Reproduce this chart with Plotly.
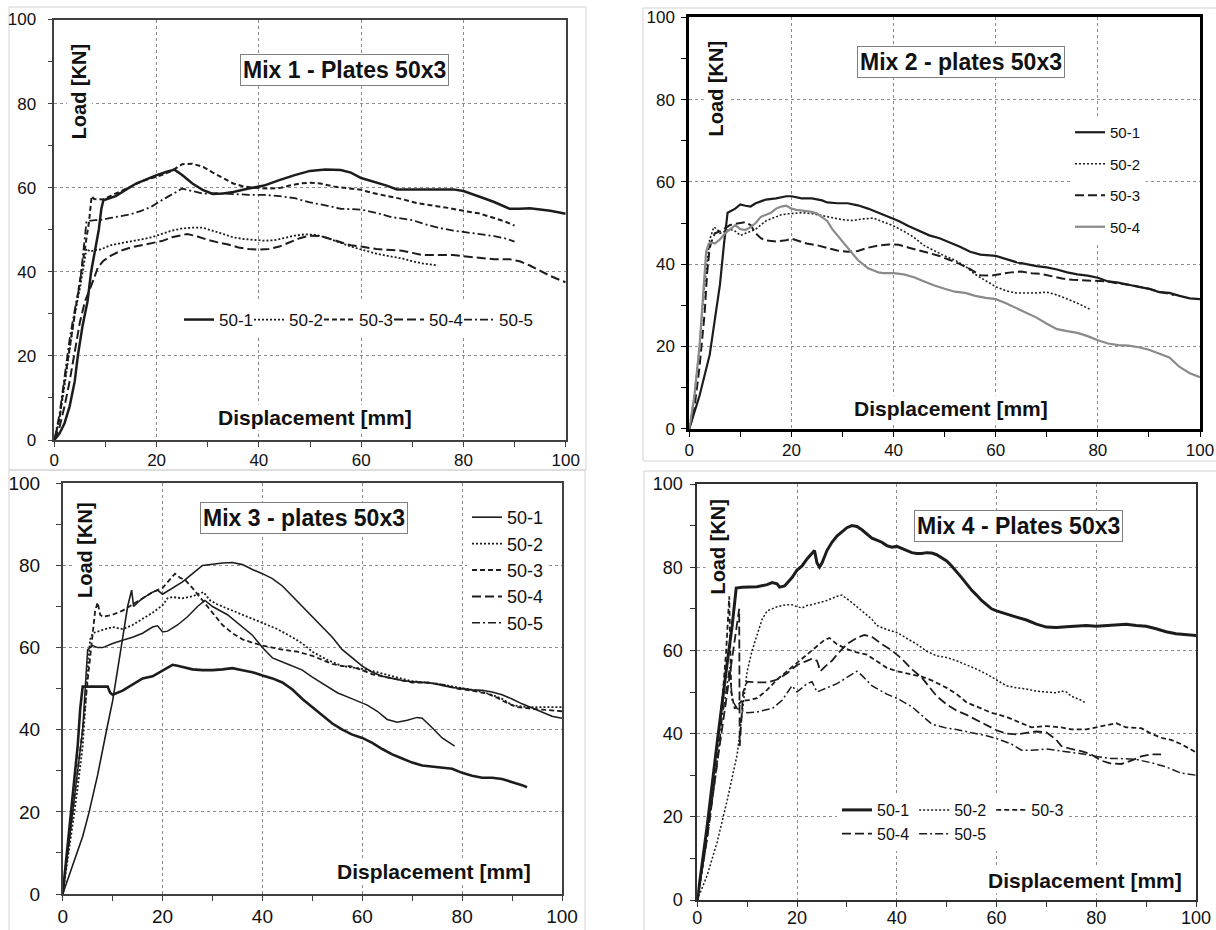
import plotly.graph_objects as go

W, H = 1216, 930
FONT = "Liberation Sans, Arial, sans-serif"
INK = "#1c1c1c"
GREY = "#8a8a8a"

# ---------------- DATA (Load [KN] vs Displacement [mm]) ----------------
# Mix 1 - Plates 50x3
M1_50_1_X = [0, 1, 2, 3, 4, 4.6, 5.5, 6.5, 7.2, 8, 8.7, 9.2, 9.6, 12, 14, 16, 18, 20, 22, 23.5, 25, 27, 29, 31, 33, 35, 38, 41, 44, 47, 50, 53, 56, 58, 60, 63, 65, 67, 70, 75, 78, 80, 82, 84, 86, 88, 89, 91, 93, 95, 97, 100]
M1_50_1_Y = [0, 1.5, 4, 8, 14, 20, 27, 33, 40, 45, 50, 55, 57, 58, 59.5, 61, 62, 63, 63.8, 64.3, 63, 61, 59.5, 58.5, 58.6, 59, 59.8, 60.5, 61.8, 63, 64, 64.3, 64.2, 63.6, 62.3, 61.3, 60.5, 59.6, 59.6, 59.7, 59.6, 59.2, 58.4, 57.5, 56.6, 55.5, 55, 55, 55.1, 54.8, 54.5, 53.8]
M1_50_2_X = [0, 1, 2, 3, 4, 5, 5.8, 6.3, 7, 8, 9, 11, 13, 15, 17, 19, 21, 23, 25, 27, 29, 31, 33, 35, 37, 39, 41, 43, 45, 47, 49, 51, 53, 55, 58, 60, 63, 66, 68, 70, 72, 74, 75]
M1_50_2_Y = [0, 5, 13, 22, 30, 36, 42, 45.5, 44.8, 45.2, 45.3, 46.3, 46.8, 47.2, 47.7, 48.2, 49, 49.8, 50.3, 50.5, 50.5, 49.8, 49, 48.2, 47.8, 47.6, 47.4, 47.5, 48, 48.6, 48.9, 48.8, 48.2, 47.3, 46, 45.3, 44.3, 43.6, 43.2, 42.5, 42, 41.7, 41.5]
M1_50_3_X = [0, 1, 2, 3, 4, 5, 6, 6.8, 7.3, 7.8, 9.5, 11, 13, 15, 17, 19, 21, 23, 25, 27, 29, 31, 33, 35, 37, 39, 42, 44, 46, 48, 50, 52, 55, 58, 60, 62, 65, 68, 71, 74, 77, 80, 83, 86, 88, 90]
M1_50_3_Y = [0, 5, 14, 22, 30, 37, 46, 52, 58, 57.3, 57.2, 58, 59.2, 60.3, 61.5, 62.2, 63, 64, 65.6, 65.7, 65, 63.6, 62.2, 61, 60.3, 60, 59.8, 59.9, 60.5, 61, 61.2, 61, 60.2, 59.8, 59.5, 58.8, 58, 57.3, 56.3, 55.8, 55.2, 54.5, 53.9, 52.8, 52, 51]
M1_50_4_X = [0, 1, 2, 3, 4, 5, 6, 7, 7.8, 8.5, 9.5, 11, 13, 15, 17, 19, 21, 23, 25, 26, 28, 30, 32, 34, 36, 38, 40, 42, 44, 46, 48, 50, 52, 54, 56, 58, 60, 63, 66, 68, 70, 72, 75, 78, 80, 83, 86, 89, 91, 93, 95, 97, 100]
M1_50_4_Y = [0, 3, 8, 14, 21, 28, 33, 36, 38.5, 41, 42.5, 43.8, 45, 45.8, 46.3, 46.8, 47.3, 48.2, 48.8, 49, 48.4, 47.6, 47, 46.5, 45.8, 45.4, 45.3, 45.4, 46, 47, 48, 48.6, 48.5, 47.8, 47, 46.3, 46, 45.4, 45.2, 45, 44.5, 44, 44, 44, 43.7, 43.3, 43, 43, 42.5, 41.5, 40.3, 39, 37.5]
M1_50_5_X = [0, 1, 2, 3, 4, 5, 5.7, 6.3, 8, 9, 11, 13, 15, 17, 19, 21, 23, 25, 27, 29, 32, 35, 38, 41, 44, 47, 50, 53, 56, 60, 63, 66, 70, 72, 75, 78, 80, 83, 86, 88, 90]
M1_50_5_Y = [0, 6, 15, 24, 31, 37, 45, 52, 52.3, 52.3, 52.8, 53.3, 53.7, 54.5, 55.5, 57, 58.5, 59.8, 59.2, 58.6, 58.7, 58.5, 58.3, 58.3, 58, 57.5, 56.5, 55.8, 55, 54.8, 54, 53, 52.3, 51.5, 50.5, 49.8, 49.5, 49, 48.5, 48, 47.2]

# Mix 2 - plates 50x3
M2_50_1_X = [0, 2, 4, 5, 6, 6.8, 7.5, 9, 10, 11, 12, 13, 15, 17, 19, 20, 21, 22, 24, 26, 27, 29, 31, 33, 35, 37, 39, 41, 43, 45, 47, 49, 51, 53, 55, 57, 60, 62, 64, 66, 68, 70, 72, 74, 76, 78, 80, 82, 84, 86, 88, 90, 92, 94, 96, 98, 100]
M2_50_1_Y = [0, 8, 18, 26, 35, 45, 52.5, 53.5, 54.5, 54.2, 54, 54.8, 55.7, 56, 56.5, 56.5, 56.2, 56, 56, 55.5, 55, 54.8, 54.8, 54.3, 53.5, 52.5, 51.5, 50.5, 49.2, 48, 47, 46.3, 45.3, 44.2, 43, 42.3, 42, 41.2, 40.5, 40, 39.5, 39.2, 38.7, 38, 37.5, 37.2, 36.7, 35.8, 35.5, 35, 34.5, 34, 33.2, 33, 32.3, 31.7, 31.5]
M2_50_2_X = [0, 1, 2, 3, 4, 4.8, 5.5, 6, 7, 8, 9, 10, 11, 12, 13, 14, 15, 16, 17, 18, 20, 22, 24, 26, 28, 30, 32, 34, 36, 38, 40, 42, 44, 46, 48, 50, 52, 54, 56, 58, 60, 62, 64, 66, 68, 70, 72, 74, 76, 78.5]
M2_50_2_Y = [0, 8, 20, 35, 46, 49, 48.5, 47.5, 48, 48.5, 48, 47, 47.5, 48, 48.5, 49.5, 50.5, 51, 51.5, 52, 52.3, 52.5, 52.3, 51.8, 51.3, 50.8, 50.6, 51, 51.2, 50.2, 49.3, 48, 46.5, 44.5, 43.2, 42, 41, 39.5, 37.5, 36, 34.5, 33.5, 33, 33, 33, 33.2, 32.5, 31.5, 30.5, 29]
M2_50_3_X = [0, 1, 2, 3, 3.5, 4, 4.5, 5, 6, 7, 8, 9, 10, 11, 12, 13, 14, 15, 17, 19, 20, 21, 23, 25, 27, 29, 31, 33, 35, 37, 39, 41, 43, 45, 47, 49, 51, 53, 55, 57, 59, 61, 63, 65, 67, 69, 71, 73, 75, 78, 80, 82, 84, 86, 88, 90, 92, 94, 95]
M2_50_3_Y = [0, 5, 15, 28, 38, 44, 46, 47.5, 48, 48.8, 49.5, 49.8, 50, 50.2, 49.5, 47.5, 46.3, 45.8, 45.5, 45.8, 46.2, 45.8, 45, 44.6, 44, 43.3, 43, 43.2, 44, 44.5, 44.8, 44.7, 44, 43.3, 42.7, 42, 41, 40, 38.8, 37.3, 37.2, 37.6, 38, 38.2, 37.8, 37.6, 37, 36.5, 36.2, 36, 36, 35.8, 35.3, 35, 34.5, 34, 33.3, 32.7, 32.5]
M2_50_4_X = [0, 1, 2, 2.8, 3.3, 3.8, 4.5, 5, 6, 7, 8, 9, 10, 11, 12, 13, 14, 15, 16, 17, 18, 19, 20, 21, 22, 23, 24, 25, 26, 27, 28, 29, 30, 31, 32, 33, 34, 35, 36, 37, 38, 40, 42, 44, 46, 48, 50, 52, 54, 56, 58, 60, 62, 64, 66, 68, 70, 72, 74, 76, 78, 80, 82, 84, 86, 88, 90, 92, 94, 96, 98, 100]
M2_50_4_Y = [0, 8, 20, 35, 43, 45, 45.2, 45, 46, 47.5, 48.5, 49.5, 48.5, 48.3, 49, 50, 51.5, 52, 52.5, 53.5, 54, 54.2, 53.5, 53.2, 53, 52.8, 52.7, 52.3, 51.5, 50.5, 48.5, 47, 45.5, 44, 42.5, 41, 40, 39, 38.5, 38, 37.8, 37.8, 37.5, 36.8, 35.8, 34.8, 34, 33.3, 33, 32.3, 31.8, 31.5, 30.5, 29.3, 28.3, 27, 25.5, 24.2, 23.7, 23.3, 22.5, 21.5, 20.7, 20.3, 20.2, 19.8, 19.2, 18.3, 17.3, 15, 13.5, 12.5]

# Mix 3 - plates 50x3
M3_50_1_X = [0, 2, 4, 5.3, 7, 8.8, 10, 11.7, 13, 13.8, 14.2, 15, 16, 18, 19, 20, 22, 24, 26, 28, 30, 32, 34, 36, 38, 40, 42, 44, 46, 48, 50, 52, 54, 56, 58, 60, 62, 64, 66, 68, 70, 72, 74, 76, 78, 80, 82, 84, 86, 88, 90, 92, 94, 96, 98, 100]
M3_50_1_Y = [0, 7, 14, 20, 29, 40, 47, 60, 70, 74, 70, 71, 72, 73.5, 74, 73, 74.5, 76, 78, 80, 80.3, 80.6, 80.7, 80.2, 79, 78, 76.8, 75, 72.5, 70, 67.5, 65, 62.5, 59.5, 57.5, 55.5, 54, 53, 52.5, 52, 51.7, 51.5, 51.3, 50.8, 50.3, 50, 49.7, 49.6, 49.2, 48.5, 47.5, 46.3, 45.3, 44.2, 43.3, 42.8]
M3_50_2_X = [0, 1, 2, 3, 4, 4.5, 5, 5.5, 6, 8, 10, 12, 14, 16, 18, 20, 21, 22, 24, 26, 28.2, 29.5, 31, 33, 35, 38, 40, 43, 46, 48, 50, 53, 56, 60, 63, 66, 70, 73, 76, 80, 83, 86, 88, 90, 93, 96, 100]
M3_50_2_Y = [0, 8, 17, 26, 36, 45, 55, 62, 63.5, 64.3, 65, 64.5, 65.5, 67, 68.5, 70.3, 72, 72.3, 72, 72.5, 73.5, 71.5, 70.5, 69.5, 68.5, 67, 66, 64.5, 62.5, 61, 59, 57, 55.5, 54.8, 54, 53, 51.8, 51.5, 51, 50.1, 49.5, 48.5, 47.5, 46, 45.5, 45.5, 45.5]
M3_50_3_X = [0, 1, 2, 3, 4, 5, 6, 6.5, 7, 7.5, 8, 10, 12, 14, 16, 18, 20, 21, 22, 22.5, 23.5, 24.5, 26, 28, 30, 32, 34, 36, 38, 40, 42, 44, 47, 50, 52, 54, 56, 57.5, 60, 62, 64, 66, 68, 70, 73, 76, 79, 82, 85, 87, 89, 91, 95, 100]
M3_50_3_Y = [0, 10, 20, 30, 40, 52, 64, 69, 71, 68, 67.5, 68, 69, 70.5, 72, 73.5, 74.5, 76, 77.5, 78, 77, 76.5, 74.5, 71.5, 68.5, 65.5, 63.5, 62, 61.2, 60.5, 60, 59.5, 59, 58, 57, 56, 55.5, 55.5, 54.5, 53.5, 53, 52.5, 52, 51.5, 51.5, 51, 50, 49.5, 48.8, 47.8, 46.5, 45.5, 45, 44.5]
M3_50_4_X = [0, 1, 2, 3, 3.5, 4, 5, 7, 9, 9.5, 10, 12, 14, 16, 18, 20, 21, 22, 23, 24, 26, 28, 30, 32, 34, 36, 38, 40, 42, 44, 46, 48, 50, 52, 54, 56, 58, 60, 62, 64, 66, 68, 70, 72, 74, 76, 78, 80, 82, 84, 86, 88, 90, 92, 93]
M3_50_4_Y = [0, 12, 24, 36, 45, 50.5, 50.5, 50.5, 50.5, 49, 48.5, 49.5, 51, 52.5, 53, 54.5, 55.2, 55.8, 55.6, 55.3, 54.7, 54.5, 54.5, 54.7, 55, 54.5, 54, 53.2, 52.5, 51.5, 49.8, 47.5, 45.5, 43.5, 41.5, 40, 38.8, 38, 36.8, 35.3, 34, 33, 32, 31.3, 31, 30.8, 30.5, 29.5, 28.8, 28.3, 28.3, 28, 27.3, 26.5, 26]
M3_50_5_X = [0, 1, 2, 3, 4, 4.5, 5, 6, 7, 8, 10, 12, 14, 16, 18, 19, 20, 21, 23, 25, 27, 28.5, 30, 33, 35, 38, 40, 42, 45, 48, 50, 53, 55, 58, 61, 63, 65, 67, 69, 71, 72, 74, 76, 78.5]
M3_50_5_Y = [0, 10, 20, 30, 40, 50, 59.5, 60.5, 60, 60, 61, 61.8, 62.5, 63.5, 65, 65.3, 63.8, 64, 65.5, 67.5, 70, 71.5, 70, 68, 66, 63, 60, 57.5, 56, 54.5, 52.8, 50.5, 49, 47.5, 46, 44.5, 42.5, 41.8, 42.3, 43, 42.8, 40.5, 38, 36]

# Mix 4 - Plates 50x3
M4_50_1_X = [0, 2, 4, 5, 6, 7, 7.5, 7.8, 9, 12, 14, 15, 16, 16.5, 17.5, 19, 20, 21, 22, 23, 23.5, 24, 24.5, 25, 26, 27, 28, 29, 30, 31, 32, 33, 34, 35, 36, 37, 38, 39, 40, 41, 42, 43, 44, 45, 46, 47, 48, 49, 50, 51, 52, 53, 54, 55, 56, 57, 58, 59, 60, 62, 64, 66, 68, 70, 72, 74, 76, 78, 80, 82, 84, 86, 88, 90, 92, 94, 96, 98, 100]
M4_50_1_Y = [0, 18, 38, 48, 57, 66, 72, 75, 75.2, 75.3, 75.8, 76.3, 76, 75.2, 75.5, 77.5, 79.3, 80.3, 82, 83.5, 84, 81, 80, 81, 84, 86, 87.5, 88.5, 89.5, 90, 89.8, 89, 88, 87, 86.5, 86, 85.2, 84.8, 85, 84.5, 84, 83.5, 83.3, 83.3, 83.5, 83.4, 83, 82.3, 81.5, 80.3, 79, 77.5, 76, 74.5, 73.3, 72, 71, 70, 69.5, 68.7, 68, 67.3, 66.3, 65.6, 65.5, 65.7, 65.8, 66, 65.8, 66, 66.2, 66.3, 66, 65.8, 65.2, 64.5, 64, 63.8, 63.6]
M4_50_2_X = [0, 2, 4, 6, 8, 9, 10, 11, 12, 13, 14, 15, 16, 17, 18, 19, 20, 21, 22, 23, 24, 25, 26, 27, 28, 29, 30, 31, 32, 33, 34, 35, 36, 38, 40, 42, 44, 46, 48, 50, 52, 54, 56, 58, 60, 62, 64, 66, 68, 70, 72, 73, 74, 75, 77, 78]
M4_50_2_Y = [0, 6, 14, 24, 35, 45, 55, 60, 64, 67.5, 69.5, 70, 70.5, 70.8, 71, 71, 70.5, 70.2, 70.8, 71, 71.3, 71.7, 72, 72.5, 73, 73.3, 72.5, 71.5, 70.5, 69.5, 68.5, 67.5, 66, 65, 64.3, 63, 61.5, 59.8, 58.7, 58.3, 57.5, 56.5, 55.5, 54.3, 53, 51.5, 51, 50.7, 50.2, 50, 49.8, 50.2, 50, 49, 48, 47.3]
M4_50_3_X = [0, 2, 4, 5, 5.8, 6.4, 6.8, 7.5, 9, 10, 12, 14, 16, 18, 20, 22, 24, 25.5, 26.5, 28, 30, 32, 34, 36, 38, 40, 42, 45, 47, 50, 52, 54, 56, 59, 62, 65, 67, 70, 73, 75, 78, 80, 82, 84, 86, 89, 91, 93, 95, 97, 100]
M4_50_3_Y = [0, 16, 36, 48, 60, 73, 50, 46, 48, 48, 48.5, 50.5, 53, 55, 57, 59, 61, 62.5, 63, 61.5, 60.3, 59.5, 59, 57.5, 55.8, 55, 54.5, 53.7, 52.8, 51, 49.5, 47.5, 46.5, 45, 44, 42.5, 41.5, 41.8, 41.5, 41, 41, 41.5, 42, 42.5, 41.5, 41.3, 40, 39, 38.5, 37.5, 35.5]
M4_50_4_X = [0, 2, 4, 6, 7.5, 8.4, 8.5, 9.2, 10, 12, 14, 16, 18, 20, 22, 23, 24, 24.7, 25.5, 27, 28, 30, 32, 33.5, 35, 37, 39, 41, 43, 45, 46, 48, 50, 52, 54, 56, 58, 60, 62, 64, 66, 68, 70, 72, 73, 75, 77, 79, 81, 83, 85, 87, 89, 91, 93]
M4_50_4_Y = [0, 15, 33, 50, 62, 70, 37, 50, 52.5, 52.3, 52.3, 53, 54.5, 56.5, 57.5, 58, 57.5, 55, 56, 57.5, 59, 61.5, 63, 63.7, 63.3, 61.5, 60, 58, 55.5, 53.5, 52, 49, 47, 45.5, 44.5, 43.2, 42, 40.8, 40, 39.8, 40.2, 40.5, 40.3, 38.5, 37, 36.3, 35.8, 35, 33.5, 32.8, 32.7, 33.5, 34.5, 35, 35]
M4_50_5_X = [0, 2, 4, 5, 6, 6.5, 7, 8, 10, 12, 14, 15, 17, 19, 20, 21, 22, 23, 24, 25, 26, 28, 30, 32, 33, 35, 38, 40, 43, 45, 47, 50, 52, 55, 58, 60, 63, 65, 67, 70, 72, 75, 78, 80, 83, 85, 88, 91, 94, 97, 100]
M4_50_5_Y = [0, 15, 33, 44, 52, 56, 48, 46, 45, 45.2, 45.8, 46, 48, 51.5, 50, 51, 52, 52.5, 50, 50.5, 51, 52, 53.5, 55, 54, 51.5, 49.5, 48.5, 46.5, 44.5, 42.3, 41.3, 41, 40.2, 39.5, 38.8, 37.5, 36, 36, 36.3, 36, 35.5, 35, 34.5, 34, 34, 33.8, 33, 32, 30.5, 30]

SERIES_NAMES = ["50-1", "50-2", "50-3", "50-4", "50-5"]
TICK_VALUES = [0, 20, 40, 60, 80, 100]

# ---------------- STYLE ----------------
DOT = "2px,2px"
SDASH = "5px,3px"
LDASH = "9px,4px"
DASHDOT = "8px,3px,2px,3px"


def px_x(p):
    return p / W


def px_y(p):
    return 1 - p / H


panels = [
    dict(
        ax="", dom=(54.3, 565.7, 19.5, 440), frame=("#404040", 1.5), tickfont=17, ystand=8, xstand=-1,
        title="Mix 1 - Plates 50x3", tpos=(56.7, 88.1), lpos=(4.9, 83), dpos=(50.9, 5.4),
        legend="legend",
        legcfg=dict(orientation="h", x=px_x(179), y=px_y(320), yanchor="middle", xanchor="left",
                    entrywidth=25, font=dict(size=17)),
        series=[
            ("50-1", M1_50_1_X, M1_50_1_Y, INK, 2.5, "solid", "solid", None),
            ("50-2", M1_50_2_X, M1_50_2_Y, INK, 1.8, DOT, DOT, None),
            ("50-3", M1_50_3_X, M1_50_3_Y, INK, 2.0, SDASH, SDASH, None),
            ("50-4", M1_50_4_X, M1_50_4_Y, INK, 2.0, LDASH, LDASH, None),
            ("50-5", M1_50_5_X, M1_50_5_Y, INK, 1.8, DASHDOT, DASHDOT, None),
        ],
        last_width=40,
    ),
    dict(
        ax="2", dom=(689.3, 1200, 17.3, 428.7), frame=("#000000", 3), tickfont=17, ystand=3, xstand=-1,
        title="Mix 2 - plates 50x3", tpos=(53.2, 89.2), lpos=(5.3, 82.8), dpos=(51.3, 4.9),
        legend="legend2",
        legcfg=dict(orientation="v", x=px_x(1070), y=px_y(116), yanchor="top", xanchor="left",
                    traceorder="grouped", tracegroupgap=9, font=dict(size=15)),
        series=[
            ("50-1", M2_50_1_X, M2_50_1_Y, INK, 2.2, "solid", "solid", "g1"),
            ("50-2", M2_50_2_X, M2_50_2_Y, INK, 1.6, DOT, DOT, "g2"),
            ("50-3", M2_50_3_X, M2_50_3_Y, INK, 2.0, LDASH, LDASH, "g3"),
            ("50-4", M2_50_4_X, M2_50_4_Y, GREY, 2.2, "solid", "solid", "g4"),
        ],
        last_width=None,
    ),
    dict(
        ax="3", dom=(62.7, 562, 483.3, 894), frame=("#404040", 1.5), tickfont=19, ystand=12, xstand=-1,
        title="Mix 3 - plates 50x3", tpos=(48.4, 91.5), lpos=(4.5, 83.8), dpos=(74.3, 5.5),
        legend="legend3",
        legcfg=dict(orientation="v", x=px_x(467), y=px_y(499), yanchor="top", xanchor="left",
                    font=dict(size=18)),
        series=[
            ("50-1", M3_50_1_X, M3_50_1_Y, INK, 1.6, "solid", "solid", None),
            ("50-2", M3_50_2_X, M3_50_2_Y, INK, 1.8, DOT, DOT, None),
            ("50-3", M3_50_3_X, M3_50_3_Y, INK, 1.8, SDASH, SDASH, None),
            ("50-4", M3_50_4_X, M3_50_4_Y, INK, 2.6, "solid", LDASH, None),
            ("50-5", M3_50_5_X, M3_50_5_Y, INK, 1.5, "solid", DASHDOT, None),
        ],
        last_width=None,
    ),
    dict(
        ax="4", dom=(697.3, 1196, 484, 900), frame=("#303030", 2), tickfont=18, ystand=4, xstand=-5,
        title="Mix 4 - Plates 50x3", tpos=(64.5, 90), lpos=(4.1, 84.9), dpos=(77.7, 4.7),
        legend="legend4",
        legcfg=dict(orientation="h", x=px_x(837), y=px_y(793), yanchor="top", xanchor="left",
                    traceorder="grouped", tracegroupgap=0, font=dict(size=16)),
        series=[
            ("50-1", M4_50_1_X, M4_50_1_Y, INK, 3.0, "solid", "solid", "a"),
            ("50-2", M4_50_2_X, M4_50_2_Y, INK, 1.5, DOT, DOT, "b"),
            ("50-3", M4_50_3_X, M4_50_3_Y, INK, 1.8, SDASH, SDASH, "c"),
            ("50-4", M4_50_4_X, M4_50_4_Y, INK, 1.8, LDASH, LDASH, "a"),
            ("50-5", M4_50_5_X, M4_50_5_Y, INK, 1.5, DASHDOT, DASHDOT, "b"),
        ],
        last_width=None,
    ),
]

fig = go.Figure()
annotations = []
layout_axes = {}

for p in panels:
    xa = "x" + p["ax"]
    ya = "y" + p["ax"]
    x0, x1, y0, y1 = p["dom"]
    lc, lw = p["frame"]
    common = dict(
        range=[0, 100], tickvals=TICK_VALUES, showline=True, mirror=True, linecolor=lc, linewidth=lw,
        ticks="outside", ticklen=5, tickwidth=1, tickcolor=lc, automargin=False,
        minor=dict(dtick=10, tick0=0, ticks="outside", ticklen=5, tickwidth=1, tickcolor=lc, showgrid=False),
        showgrid=True, gridcolor="#8c8c8c", gridwidth=1, griddash="dot", zeroline=False,
        tickfont=dict(family=FONT, size=p["tickfont"], color="#111111"), fixedrange=True,
    )
    layout_axes["xaxis" + p["ax"]] = dict(common, domain=[px_x(x0), px_x(x1)], anchor=ya,
                                          ticklabelstandoff=p["xstand"])
    layout_axes["yaxis" + p["ax"]] = dict(common, domain=[px_y(y1), px_y(y0)], anchor=xa,
                                          ticklabelstandoff=p["ystand"])

    n = len(p["series"])
    for i, (name, xs, ys, color, width, draw_dash, leg_dash, grp) in enumerate(p["series"]):
        same = draw_dash == leg_dash
        lw_entry = p["last_width"] if (i == n - 1 and p["last_width"]) else None
        fig.add_trace(go.Scatter(
            x=xs, y=ys, mode="lines", name=name, xaxis=xa, yaxis=ya,
            line=dict(color=color, width=width, dash=draw_dash),
            legend=p["legend"], showlegend=same, legendgroup=grp, hoverinfo="skip",
            legendwidth=lw_entry,
        ))
        if not same:
            fig.add_trace(go.Scatter(
                x=[None], y=[None], mode="lines", name=name, xaxis=xa, yaxis=ya,
                line=dict(color=color, width=min(width, 2), dash=leg_dash),
                legend=p["legend"], showlegend=True, legendgroup=grp, hoverinfo="skip",
            ))

    annotations.append(dict(
        xref=xa, yref=ya, x=p["tpos"][0], y=p["tpos"][1], text="<b>" + p["title"] + "</b>",
        showarrow=False, font=dict(family=FONT, size=23, color="#111111"),
        bgcolor="white", bordercolor="#808080", borderwidth=1, borderpad=2,
    ))
    annotations.append(dict(
        xref=xa, yref=ya, x=p["lpos"][0], y=p["lpos"][1], text="<b>Load [KN]</b>", textangle=-90,
        showarrow=False, font=dict(family=FONT, size=20, color="#111111"), bgcolor="white",
    ))
    annotations.append(dict(
        xref=xa, yref=ya, x=p["dpos"][0], y=p["dpos"][1], text="<b>Displacement [mm]</b>",
        showarrow=False, font=dict(family=FONT, size=21, color="#111111"), bgcolor="white",
    ))

    leg = dict(p["legcfg"])
    leg["font"] = dict(family=FONT, color="#111111", **leg["font"])
    leg.update(bgcolor="white", borderwidth=0, itemwidth=30)
    layout_axes[p["legend"]] = leg

# light outer frames of the four pictures
frames_px = [(9, 7, 586, 470), (643, 8, 1220, 461), (9, 470, 585, 935), (644, 471, 1220, 935)]
shapes = [dict(type="rect", xref="paper", yref="paper", x0=px_x(a), x1=px_x(c), y0=px_y(d), y1=px_y(b),
               line=dict(color="#d2d2d2", width=1), layer="below") for a, b, c, d in frames_px]

fig.update_layout(
    width=W, height=H, margin=dict(l=0, r=0, t=0, b=0, autoexpand=False),
    paper_bgcolor="white", plot_bgcolor="white",
    font=dict(family=FONT, color="#111111"),
    annotations=annotations, shapes=shapes, showlegend=True,
    **layout_axes,
)

fig.write_html("out.html")
